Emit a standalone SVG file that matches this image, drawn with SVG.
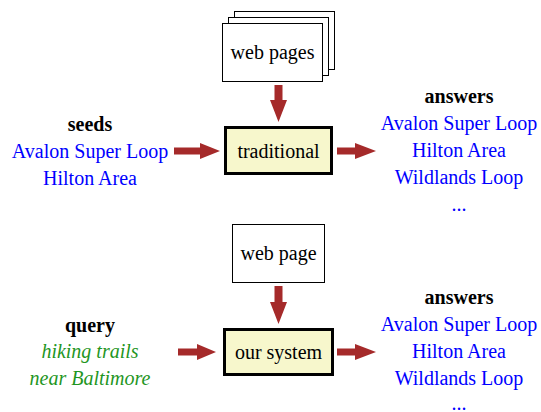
<svg xmlns="http://www.w3.org/2000/svg" width="541" height="412" viewBox="0 0 541 412">
<style>
.b{font-weight:bold;fill:#000}
.blue{fill:#0000ff}
.green{fill:#1f961f;font-style:italic}
.page{fill:#fff;stroke:#000;stroke-width:1}
.proc{fill:#f7f7cc;stroke:#000;stroke-width:3}
.arr{fill:#a52a2a}
</style>
<rect width="541" height="412" fill="#fff"/>
<g id="webpages">
<rect class="page" x="234.5" y="11.5" width="100" height="58"/>
<rect class="page" x="228.5" y="17.5" width="100" height="58"/>
<rect class="page" x="222.5" y="23.5" width="100" height="58"/>
<text font-family="Liberation Serif" font-size="20" text-anchor="middle" x="272.5" y="59">web pages</text>
</g>
<g id="traditional">
<rect class="proc" x="225.5" y="127.5" width="106" height="46"/>
<text font-family="Liberation Serif" font-size="20" text-anchor="middle" x="278.5" y="158">traditional</text>
</g>
<g id="seeds">
<text class="b" font-family="Liberation Serif" font-size="20" text-anchor="middle" x="90" y="131">seeds</text>
<text class="blue" font-family="Liberation Serif" font-size="20" text-anchor="middle" x="90" y="158">Avalon Super Loop</text>
<text class="blue" font-family="Liberation Serif" font-size="20" text-anchor="middle" x="90" y="185">Hilton Area</text>
</g>
<g id="answers1">
<text class="b" font-family="Liberation Serif" font-size="20" text-anchor="middle" x="459" y="103">answers</text>
<text class="blue" font-family="Liberation Serif" font-size="20" text-anchor="middle" x="459" y="130">Avalon Super Loop</text>
<text class="blue" font-family="Liberation Serif" font-size="20" text-anchor="middle" x="459" y="157">Hilton Area</text>
<text class="blue" font-family="Liberation Serif" font-size="20" text-anchor="middle" x="459" y="184">Wildlands Loop</text>
<text class="blue" font-family="Liberation Serif" font-size="20" text-anchor="middle" x="459" y="211">...</text>
</g>
<g id="webpage">
<rect class="page" x="232.5" y="224.5" width="92" height="58"/>
<text font-family="Liberation Serif" font-size="20" text-anchor="middle" x="278.5" y="260">web page</text>
</g>
<g id="oursystem">
<rect class="proc" x="224.5" y="329.5" width="108" height="45"/>
<text font-family="Liberation Serif" font-size="20" text-anchor="middle" x="278.5" y="359">our system</text>
</g>
<g id="query">
<text class="b" font-family="Liberation Serif" font-size="20" text-anchor="middle" x="90" y="332">query</text>
<text class="green" font-family="Liberation Serif" font-size="20" text-anchor="middle" x="90" y="358">hiking trails</text>
<text class="green" font-family="Liberation Serif" font-size="20" text-anchor="middle" x="90" y="385">near Baltimore</text>
</g>
<g id="answers2">
<text class="b" font-family="Liberation Serif" font-size="20" text-anchor="middle" x="459" y="304">answers</text>
<text class="blue" font-family="Liberation Serif" font-size="20" text-anchor="middle" x="459" y="331">Avalon Super Loop</text>
<text class="blue" font-family="Liberation Serif" font-size="20" text-anchor="middle" x="459" y="358">Hilton Area</text>
<text class="blue" font-family="Liberation Serif" font-size="20" text-anchor="middle" x="459" y="385">Wildlands Loop</text>
<text class="blue" font-family="Liberation Serif" font-size="20" text-anchor="middle" x="459" y="410">...</text>
</g>
<g id="connectors">
<polygon class="arr" points="274.5,85 282.5,85 282.5,100 287,100 278.5,122 270,100 274.5,100"/>
<polygon class="arr" points="174,147.5 200,147.5 200,143 220,151 200,159 200,154.5 174,154.5"/>
<polygon class="arr" points="337,147.5 355,147.5 355,143 376,151 355,159 355,154.5 337,154.5"/>
<polygon class="arr" points="274.5,286 282.5,286 282.5,302 287,302 278.5,324 270,302 274.5,302"/>
<polygon class="arr" points="178,348.5 197,348.5 197,344 216,352 197,360 197,355.5 178,355.5"/>
<polygon class="arr" points="337,348.5 355,348.5 355,344 376,352 355,360 355,355.5 337,355.5"/>
</g>
</svg>
